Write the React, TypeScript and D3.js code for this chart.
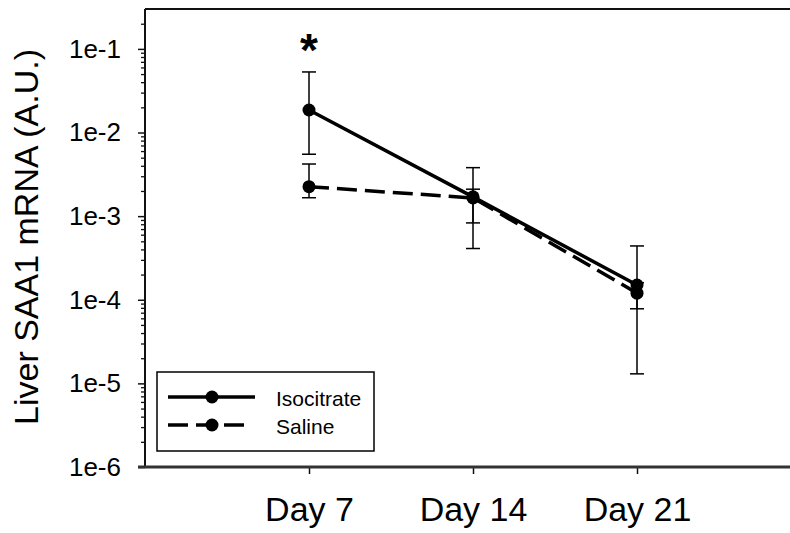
import React, { useEffect, useRef } from "react";
import * as d3 from "d3";

// values
const days = [7, 14, 21];
const dayLabels = ["Day 7", "Day 14", "Day 21"];
const isoMean = [1.86e-2, 1.7e-3, 1.5e-4];
const isoUpper = [5.3e-2, 3.8e-3, 4.4e-4];
const isoLower = [5.5e-3, 4.1e-4, 1.3e-5];
const salMean = [2.25e-3, 1.65e-3, 1.2e-4];
const salUpper = [4.2e-3, 2.1e-3, 1.6e-4];
const salLower = [1.66e-3, 8.3e-4, 7.8e-5];
const yTickValues = [1e-6, 1e-5, 1e-4, 1e-3, 1e-2, 1e-1];
const yTickLabels = ["1e-6", "1e-5", "1e-4", "1e-3", "1e-2", "1e-1"];
const seriesNames = ["Isocitrate", "Saline"];

const FONT = "'Liberation Sans', Arial, sans-serif";

export default function App() {
  const ref = useRef<SVGSVGElement>(null);

  useEffect(() => {
    const svg = d3.select(ref.current);
    svg.selectAll("*").remove();

    const left = 145;
    const top = 9;
    const bottom = 467;

    const x = d3.scaleLinear().domain([0, 28]).range([left, 801]);
    const y = d3.scaleLog().domain([1e-6, 3e-1]).range([bottom, top]);

    // frame lines
    svg.append("line")
      .attr("x1", left).attr("x2", 790).attr("y1", top).attr("y2", top)
      .attr("stroke", "#111").attr("stroke-width", 2);

    // y axis with minor ticks
    const minor: number[] = [];
    for (let e = -6; e <= -1; e++) {
      for (let m = 2; m <= 9; m++) {
        const v = m * Math.pow(10, e);
        if (v <= 3e-1) minor.push(v);
      }
    }
    const yMinor = svg.append("g").attr("transform", `translate(${left},0)`)
      .call(d3.axisLeft(y).tickValues(minor).tickSize(4).tickFormat(() => ""));
    yMinor.select(".domain").remove();
    yMinor.selectAll("line").attr("stroke", "#111").attr("stroke-width", 1.3);

    const yMajor = svg.append("g").attr("transform", `translate(${left},0)`)
      .call(d3.axisLeft(y).tickValues(yTickValues).tickSize(7).tickPadding(17)
        .tickFormat((d, i) => yTickLabels[i]));
    yMajor.select(".domain").remove();
    yMajor.selectAll("line").attr("stroke", "#111").attr("stroke-width", 1.5);
    yMajor.selectAll("text")
      .attr("font-family", FONT).attr("font-size", 26).attr("fill", "#000");

    svg.append("line")
      .attr("x1", left).attr("x2", left).attr("y1", top).attr("y2", bottom)
      .attr("stroke", "#111").attr("stroke-width", 2);

    // x axis
    const xAxis = svg.append("g").attr("transform", `translate(0,${bottom})`)
      .call(d3.axisBottom(x).tickValues(days).tickSize(7).tickPadding(23)
        .tickFormat((d, i) => dayLabels[i]));
    xAxis.select(".domain").remove();
    xAxis.selectAll("line").attr("stroke", "#111").attr("stroke-width", 1.5);
    xAxis.selectAll("text")
      .attr("font-family", FONT).attr("font-size", 34).attr("fill", "#000");

    svg.append("line")
      .attr("x1", 138).attr("x2", 790).attr("y1", bottom).attr("y2", bottom)
      .attr("stroke", "#333").attr("stroke-width", 3);

    // y title
    svg.append("text")
      .attr("transform", `translate(38,237) rotate(-90)`)
      .attr("text-anchor", "middle")
      .attr("font-family", FONT).attr("font-size", 34)
      .text("Liver SAA1 mRNA (A.U.)");

    const series = [
      { mean: isoMean, up: isoUpper, lo: isoLower, dash: null },
      { mean: salMean, up: salUpper, lo: salLower, dash: "20,8" },
    ];

    // error bars
    series.forEach(s => {
      const g = svg.append("g").attr("stroke", "#000").attr("stroke-width", 1.5);
      days.forEach((d, i) => {
        g.append("line").attr("x1", x(d)).attr("x2", x(d))
          .attr("y1", y(s.up[i])).attr("y2", y(s.lo[i]));
        [s.up[i], s.lo[i]].forEach(v => {
          g.append("line").attr("x1", x(d) - 7).attr("x2", x(d) + 7)
            .attr("y1", y(v)).attr("y2", y(v));
        });
      });
    });

    const line = d3.line<number>().x((d, i) => x(days[i])).y(d => y(d));

    series.slice().reverse().forEach(s => {
      svg.append("path")
        .attr("d", line(s.mean))
        .attr("fill", "none").attr("stroke", "#000").attr("stroke-width", 3.5)
        .attr("stroke-dasharray", s.dash);
      svg.append("g").selectAll("circle").data(s.mean).enter().append("circle")
        .attr("cx", (d, i) => x(days[i])).attr("cy", d => y(d))
        .attr("r", 6.5).attr("fill", "#000");
    });

    // significance marker
    svg.append("text")
      .attr("x", x(7)).attr("y", 66).attr("text-anchor", "middle")
      .attr("font-family", FONT).attr("font-size", 46).attr("font-weight", "bold")
      .text("*");

    // legend
    const lg = svg.append("g");
    lg.append("rect").attr("x", 157).attr("y", 372).attr("width", 217).attr("height", 79)
      .attr("fill", "#fff").attr("stroke", "#000").attr("stroke-width", 1.5);
    const rows = [
      { yy: 397, x2: 255, dash: null },
      { yy: 425, x2: 244, dash: "20,8" },
    ];
    rows.forEach((r, i) => {
      lg.append("line").attr("x1", 168).attr("x2", r.x2).attr("y1", r.yy).attr("y2", r.yy)
        .attr("stroke", "#000").attr("stroke-width", 3.5).attr("stroke-dasharray", r.dash);
      lg.append("circle").attr("cx", 212).attr("cy", r.yy).attr("r", 6.5).attr("fill", "#000");
      lg.append("text").attr("x", 276).attr("y", r.yy + 9)
        .attr("font-family", FONT).attr("font-size", 21)
        .text(seriesNames[i]);
    });
  }, []);

  return (
    <svg ref={ref} width={790} height={533}
      style={{ position: "absolute", left: 0, top: 0, background: "#fff" }} />
  );
}
